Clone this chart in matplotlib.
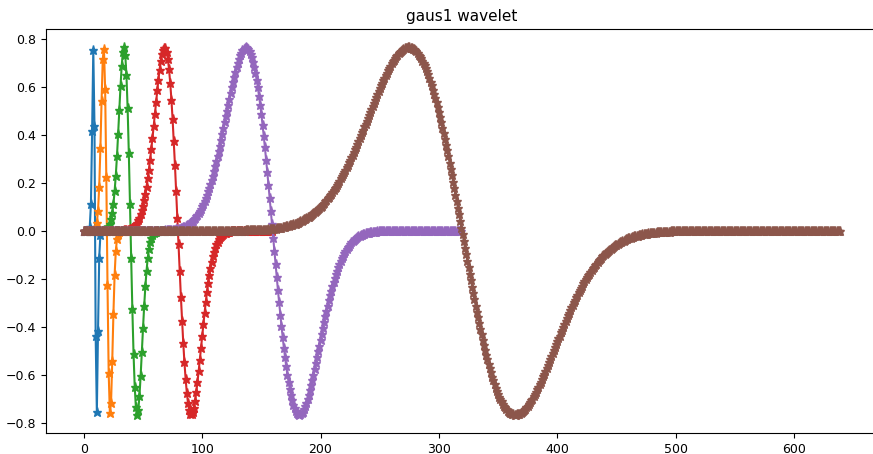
import matplotlib
matplotlib.use('Agg')
import matplotlib.pyplot as plt

psi_20 = [0.0, 0.0, 0.0, 0.0, 0.001, 0.016, 0.111, 0.416, 0.756, 0.439,
          -0.439, -0.756, -0.416, -0.111, -0.016, -0.001, 0.0, 0.0, 0.0, 0.0]

psi_40 = ([0.0] * 8 +
          [0.001, 0.003, 0.012, 0.034, 0.085, 0.185, 0.345, 0.544, 0.717, 0.759, 0.593, 0.225,
           -0.225, -0.593, -0.759, -0.717, -0.544, -0.345, -0.185, -0.085, -0.034, -0.012, -0.003, -0.001] +
          [0.0] * 8)

psi_80 = ([0.0] * 16 +
          [0.001, 0.002, 0.003, 0.006, 0.010, 0.017, 0.029, 0.048,
           0.075, 0.113, 0.165, 0.231, 0.312, 0.406, 0.506, 0.604,
           0.689, 0.747, 0.766, 0.736, 0.650, 0.512, 0.327, 0.113,
           -0.113, -0.327, -0.512, -0.650, -0.736, -0.766, -0.747, -0.689,
           -0.604, -0.506, -0.406, -0.312, -0.231, -0.165, -0.113, -0.075,
           -0.048, -0.029, -0.017, -0.010, -0.006, -0.003, -0.002, -0.001] +
          [0.0] * 16)

psi_160 = ([0.0] * 32 +
           [0.001, 0.001, 0.002, 0.002, 0.003, 0.004, 0.005, 0.007,
            0.009, 0.012, 0.016, 0.021, 0.027, 0.035, 0.045, 0.056,
            0.070, 0.087, 0.106, 0.129, 0.155, 0.185, 0.219, 0.256,
            0.297, 0.342, 0.388, 0.437, 0.487, 0.537, 0.586, 0.631,
            0.673, 0.709, 0.738, 0.756, 0.765, 0.762, 0.747, 0.717,
            0.674, 0.617, 0.548, 0.466, 0.374, 0.274, 0.167, 0.056,
            -0.056, -0.167, -0.274, -0.374, -0.466, -0.548, -0.617, -0.674,
            -0.717, -0.747, -0.762, -0.765, -0.756, -0.738, -0.709, -0.673,
            -0.631, -0.586, -0.537, -0.487, -0.437, -0.388, -0.342, -0.297,
            -0.256, -0.219, -0.185, -0.155, -0.129, -0.106, -0.087, -0.070,
            -0.056, -0.045, -0.035, -0.027, -0.021, -0.016, -0.012, -0.009,
            -0.007, -0.005, -0.004, -0.003, -0.002, -0.002, -0.001, -0.001] +
           [0.0] * 32)

psi_320 = ([0.0] * 64 +
           [0.001, 0.001, 0.001, 0.001, 0.001, 0.002, 0.002, 0.002,
            0.003, 0.003, 0.004, 0.004, 0.005, 0.006, 0.007, 0.008,
            0.009, 0.010, 0.012, 0.014, 0.016, 0.018, 0.020, 0.023,
            0.026, 0.030, 0.034, 0.038, 0.043, 0.048, 0.054, 0.061,
            0.068, 0.075, 0.084, 0.093, 0.103, 0.114, 0.125, 0.138,
            0.151, 0.165, 0.180, 0.196, 0.213, 0.231, 0.250, 0.269,
            0.290, 0.311, 0.333, 0.356, 0.380, 0.404, 0.428, 0.453,
            0.478, 0.502, 0.527, 0.552, 0.576, 0.600, 0.623, 0.644,
            0.665, 0.685, 0.702, 0.718, 0.732, 0.744, 0.754, 0.760,
            0.764, 0.766, 0.764, 0.759, 0.751, 0.739, 0.725, 0.706,
            0.685, 0.660, 0.631, 0.600, 0.565, 0.527, 0.487, 0.443,
            0.397, 0.349, 0.298, 0.247, 0.193, 0.139, 0.084, 0.028,
            -0.028, -0.084, -0.139, -0.193, -0.247, -0.298, -0.349, -0.397,
            -0.443, -0.487, -0.527, -0.565, -0.600, -0.631, -0.660, -0.685,
            -0.706, -0.725, -0.739, -0.751, -0.759, -0.764, -0.766, -0.764,
            -0.760, -0.754, -0.744, -0.732, -0.718, -0.702, -0.685, -0.665,
            -0.644, -0.623, -0.600, -0.576, -0.552, -0.527, -0.502, -0.478,
            -0.453, -0.428, -0.404, -0.380, -0.356, -0.333, -0.311, -0.290,
            -0.269, -0.250, -0.231, -0.213, -0.196, -0.180, -0.165, -0.151,
            -0.138, -0.125, -0.114, -0.103, -0.093, -0.084, -0.075, -0.068,
            -0.061, -0.054, -0.048, -0.043, -0.038, -0.034, -0.030, -0.026,
            -0.023, -0.020, -0.018, -0.016, -0.014, -0.012, -0.010, -0.009,
            -0.008, -0.007, -0.006, -0.005, -0.004, -0.004, -0.003, -0.003,
            -0.002, -0.002, -0.002, -0.001, -0.001, -0.001, -0.001, -0.001] +
           [0.0] * 64)

psi_640 = ([0.0] * 128 +
           [0.001, 0.001, 0.001, 0.001, 0.001, 0.001, 0.001, 0.001,
            0.001, 0.002, 0.002, 0.002, 0.002, 0.002, 0.002, 0.002,
            0.003, 0.003, 0.003, 0.003, 0.004, 0.004, 0.004, 0.005,
            0.005, 0.005, 0.006, 0.006, 0.007, 0.007, 0.008, 0.008,
            0.009, 0.010, 0.010, 0.011, 0.012, 0.013, 0.013, 0.014,
            0.015, 0.017, 0.018, 0.019, 0.020, 0.021, 0.023, 0.024,
            0.026, 0.028, 0.030, 0.031, 0.033, 0.035, 0.038, 0.040,
            0.042, 0.045, 0.048, 0.051, 0.053, 0.057, 0.060, 0.063,
            0.067, 0.070, 0.074, 0.078, 0.083, 0.087, 0.091, 0.096,
            0.101, 0.106, 0.112, 0.118, 0.123, 0.129, 0.136, 0.142,
            0.149, 0.156, 0.163, 0.170, 0.178, 0.185, 0.193, 0.202,
            0.210, 0.219, 0.228, 0.237, 0.246, 0.256, 0.266, 0.276,
            0.286, 0.297, 0.307, 0.318, 0.329, 0.341, 0.352, 0.364,
            0.375, 0.387, 0.399, 0.411, 0.423, 0.436, 0.448, 0.460,
            0.473, 0.485, 0.498, 0.510, 0.523, 0.535, 0.547, 0.559,
            0.571, 0.584, 0.595, 0.607, 0.618, 0.629, 0.640, 0.651,
            0.661, 0.671, 0.681, 0.690, 0.699, 0.707, 0.715, 0.722,
            0.729, 0.736, 0.742, 0.747, 0.752, 0.756, 0.759, 0.762,
            0.764, 0.765, 0.766, 0.766, 0.765, 0.763, 0.761, 0.758,
            0.754, 0.749, 0.743, 0.736, 0.729, 0.721, 0.711, 0.701,
            0.691, 0.678, 0.666, 0.653, 0.638, 0.623, 0.608, 0.590,
            0.573, 0.555, 0.536, 0.516, 0.496, 0.475, 0.453, 0.431,
            0.408, 0.384, 0.360, 0.336, 0.311, 0.285, 0.260, 0.233,
            0.206, 0.180, 0.152, 0.125, 0.097, 0.070, 0.042, 0.014,
            -0.014, -0.042, -0.070, -0.097, -0.125, -0.152, -0.180, -0.206,
            -0.233, -0.260, -0.285, -0.311, -0.336, -0.360, -0.384, -0.408,
            -0.431, -0.453, -0.475, -0.496, -0.516, -0.536, -0.555, -0.573,
            -0.590, -0.608, -0.623, -0.638, -0.653, -0.666, -0.678, -0.691,
            -0.701, -0.711, -0.721, -0.729, -0.736, -0.743, -0.749, -0.754,
            -0.758, -0.761, -0.763, -0.765, -0.766, -0.766, -0.765, -0.764,
            -0.762, -0.759, -0.756, -0.752, -0.747, -0.742, -0.736, -0.729,
            -0.722, -0.715, -0.707, -0.699, -0.690, -0.681, -0.671, -0.661,
            -0.651, -0.640, -0.629, -0.618, -0.607, -0.595, -0.584, -0.571,
            -0.559, -0.547, -0.535, -0.523, -0.510, -0.498, -0.485, -0.473,
            -0.460, -0.448, -0.436, -0.423, -0.411, -0.399, -0.387, -0.375,
            -0.364, -0.352, -0.341, -0.329, -0.318, -0.307, -0.297, -0.286,
            -0.276, -0.266, -0.256, -0.246, -0.237, -0.228, -0.219, -0.210,
            -0.202, -0.193, -0.185, -0.178, -0.170, -0.163, -0.156, -0.149,
            -0.142, -0.136, -0.129, -0.123, -0.118, -0.112, -0.106, -0.101,
            -0.096, -0.091, -0.087, -0.083, -0.078, -0.074, -0.070, -0.067,
            -0.063, -0.060, -0.057, -0.053, -0.051, -0.048, -0.045, -0.042,
            -0.040, -0.038, -0.035, -0.033, -0.031, -0.030, -0.028, -0.026,
            -0.024, -0.023, -0.021, -0.020, -0.019, -0.018, -0.017, -0.015,
            -0.014, -0.013, -0.013, -0.012, -0.011, -0.010, -0.010, -0.009,
            -0.008, -0.008, -0.007, -0.007, -0.006, -0.006, -0.005, -0.005,
            -0.005, -0.004, -0.004, -0.004, -0.003, -0.003, -0.003, -0.003,
            -0.002, -0.002, -0.002, -0.002, -0.002, -0.002, -0.002, -0.001,
            -0.001, -0.001, -0.001, -0.001, -0.001, -0.001, -0.001, -0.001] +
           [0.0] * 128)

series = [psi_20, psi_40, psi_80, psi_160, psi_320, psi_640]

plt.rcParams['font.size'] = 9

fig = plt.figure(figsize=(8.73, 4.54), dpi=100)
# axes runs slightly past the right edge, like the cropped screenshot
ax = fig.add_axes([0.0527, 0.0463, 0.9530, 0.8899])

for psi in series:
    ax.plot(psi, '*-', markersize=6.5, linewidth=1.5)

ax.set_title('gaus1 wavelet', fontsize=11)

fig.savefig('out.png', dpi=100)
